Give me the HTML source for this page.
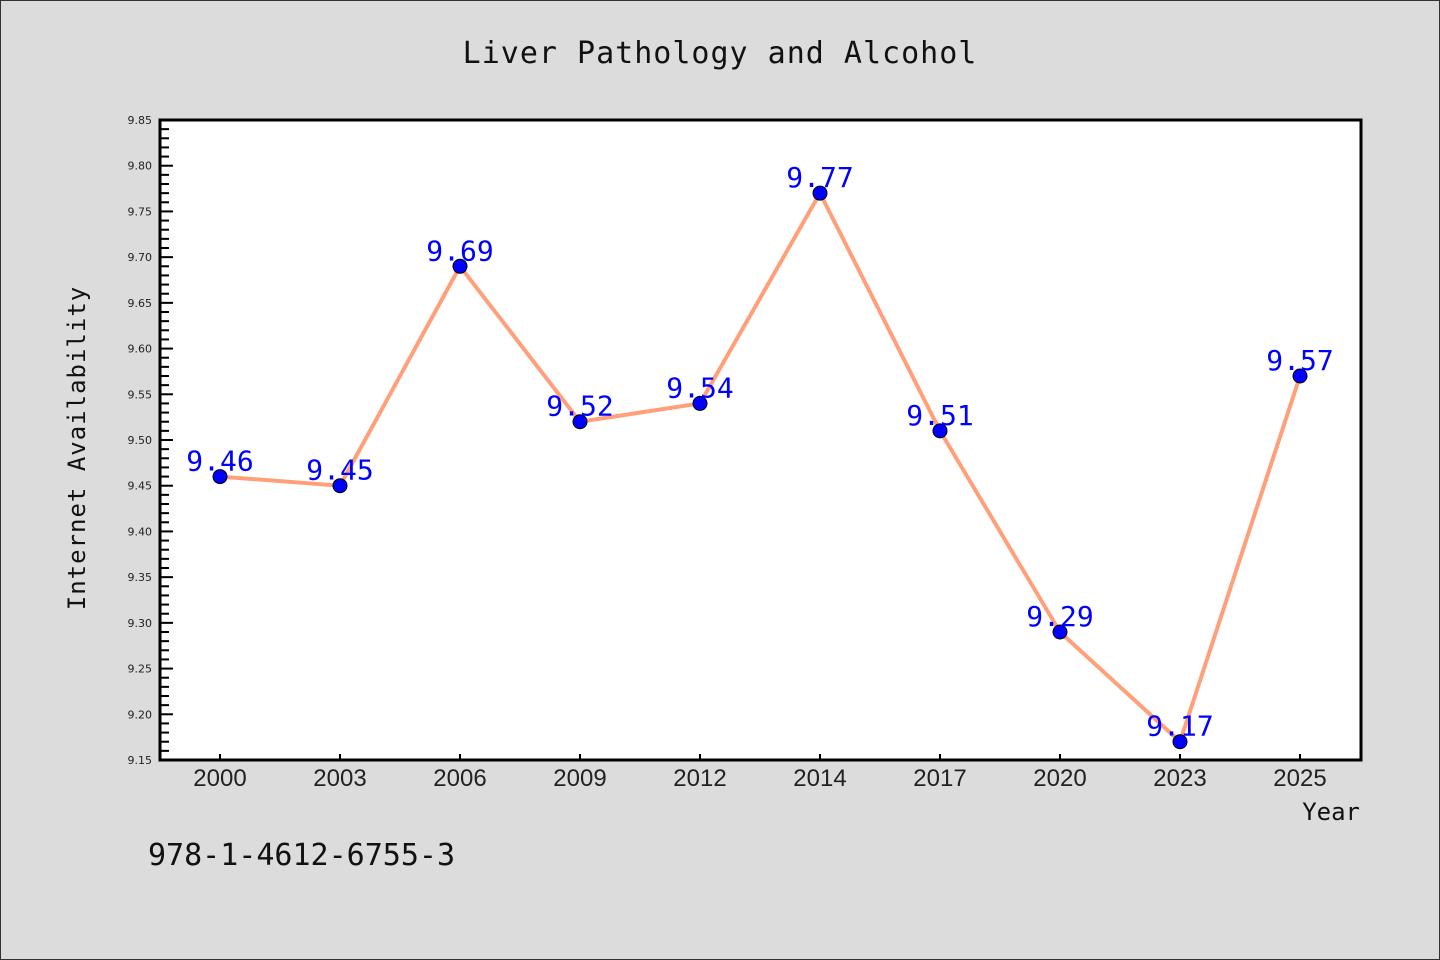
<!DOCTYPE html>
<html><head><meta charset="utf-8"><style>
body{margin:0;background:#dcdcdc;}
svg{display:block}
text{font-family:"WenQuanYi Zen Hei Mono","WenQuanYi Zen Hei","DejaVu Sans Mono",monospace}
</style></head><body>
<svg id="chart" width="1440" height="960" xmlns="http://www.w3.org/2000/svg">
<rect x="0.5" y="0.5" width="1439" height="959" fill="#dcdcdc" stroke="#333"/>
<text x="720" y="63" text-anchor="middle" font-size="30" fill="#111" letter-spacing="1">Liver Pathology and Alcohol</text>
<rect x="160" y="120" width="1201" height="640" fill="#fff"/>
<g id="axes"></g>
<text transform="translate(85,448) rotate(-90)" text-anchor="middle" font-size="24" fill="#111" letter-spacing="1">Internet Availability</text>
<text x="1360" y="820" text-anchor="end" font-size="24" fill="#111">Year</text>
<text x="148" y="865" font-size="30" fill="#111">978-1-4612-6755-3</text>
<g id="series"></g>
<rect x="160" y="120" width="1201" height="640" fill="none" stroke="#000" stroke-width="3"/>
</svg>
<script>
const categories=["2000","2003","2006","2009","2012","2014","2017","2020","2023","2025"];
const values=[9.46,9.45,9.69,9.52,9.54,9.77,9.51,9.29,9.17,9.57];
const yTicks=[9.15,9.20,9.25,9.30,9.35,9.40,9.45,9.50,9.55,9.60,9.65,9.70,9.75,9.80,9.85];
const yMin=9.15,yMax=9.85,plotTop=120,plotBottom=760,plotLeft=160,step=120,firstX=220;
const NS="http://www.w3.org/2000/svg";
function yS(v){return plotBottom-(v-yMin)/(yMax-yMin)*(plotBottom-plotTop);}
function xS(i){return firstX+i*step;}
function mk(tag,attrs,parent){const e=document.createElementNS(NS,tag);for(const k in attrs)e.setAttribute(k,attrs[k]);parent.appendChild(e);return e;}
const axes=document.getElementById('axes'),series=document.getElementById('series');
yTicks.forEach((t,i)=>{
  const l=mk('line',{x1:plotLeft,x2:plotLeft+13,y1:yS(t),y2:yS(t),stroke:'#000','stroke-width':2},axes);
  
  
  const tx=mk('text',{x:152,y:yS(t)+4,'text-anchor':'end','font-size':11,fill:'#222',style:'font-family:"DejaVu Sans",sans-serif'},axes);
  tx.textContent=t.toFixed(2);
  
  
  if(i<yTicks.length-1){for(let k=1;k<5;k++){const v=t+k*0.01;
    const m=mk('line',{x1:plotLeft,x2:plotLeft+9,y1:yS(v),y2:yS(v),stroke:'#000','stroke-width':2},axes);
    
    }}
});
categories.forEach((c,i)=>{
  const l=mk('line',{x1:xS(i),x2:xS(i),y1:plotBottom,y2:plotBottom-6,stroke:'#000','stroke-width':2},axes);
  
  
  const tx=mk('text',{x:xS(i),y:786,'text-anchor':'middle','font-size':24,fill:'#222',style:'font-family:"WenQuanYi Zen Hei","Liberation Sans",sans-serif'},axes);
  tx.textContent=c;
  
  
});
const pl=mk('polyline',{points:values.map((v,i)=>xS(i)+','+yS(v)).join(' '),fill:'none',stroke:'#ffa07a','stroke-width':4},series);


values.forEach((v,i)=>{
  const c=mk('circle',{cx:xS(i),cy:yS(v),r:7,fill:'#0000ff',stroke:'#000','stroke-width':1},series);
  
  
  const t=mk('text',{x:xS(i),y:yS(v)-6,'text-anchor':'middle','font-size':28,fill:'#0000ff'},series);
  t.textContent=v.toFixed(2);
  
  
});
</script>
</body></html>
